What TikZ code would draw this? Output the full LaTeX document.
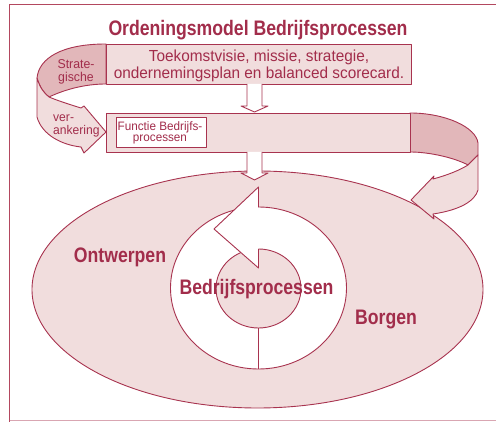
\documentclass[tikz,border=0pt]{standalone}
\usepackage{fontspec}
\setmainfont{Liberation Sans}[FakeStretch=0.84]
\newfontfamily\regfont{Liberation Sans}[FakeStretch=0.96]
\definecolor{lineRed}{HTML}{A8334F}
\definecolor{textRed}{HTML}{A22D4B}
\definecolor{lightPink}{HTML}{F1DDDD}
\definecolor{darkPink}{HTML}{E2B7BA}
\definecolor{frameRed}{HTML}{B3475F}
\definecolor{frameLight}{HTML}{D9A6B2}
\tikzset{
  outline/.style={draw=lineRed, line width=0.9pt, line join=round},
  lightface/.style={outline, fill=lightPink},
  darkface/.style={outline, fill=darkPink},
  whiteface/.style={outline, fill=white},
  bigtext/.style={text=textRed, font=\bfseries\fontsize{21}{21}\selectfont, inner sep=0pt},
  plaintext/.style={text=textRed, inner sep=0pt},
}
\begin{document}
\begin{tikzpicture}[x=1pt, y=-1pt]
\useasboundingbox (0,0) rectangle (496,422);

% page frame
\draw[frameRed, line width=1.5pt] (9.5,422) -- (9.5,4.5) -- (497,4.5);
\draw[frameLight, line width=1pt] (9.5,421) -- (497,421);

% outer field
\path[lightface] (257.5,289.5) ellipse [x radius=225.5, y radius=118.5];

% right ribbon: upper (dark) band and returning arrow
\path[darkface] (410,113) .. controls (445,113) and (476,127) .. (478,143)
  -- (478,155) -- (468,165) .. controls (455,158) and (430,152) .. (410,152) -- cycle;
\path[lightface] (478,155) -- (478,190) .. controls (475,201) and (460,210) .. (433,214)
  -- (434,219) -- (411,200) -- (434,176) -- (433,179)
  .. controls (448,175) and (460,170) .. (468,165) -- cycle;

% left ribbon: upper (dark) band and arrow into the second block
\path[darkface] (106,44) .. controls (62,44) and (39,58) .. (37,78)
  .. controls (40,88) and (44,93) .. (49,97)
  .. controls (66,89) and (86,84) .. (106,84) -- cycle;
\path[lightface] (37,78) -- (37,117) .. controls (42,135) and (62,145) .. (81,147)
  -- (84,153) -- (106,132) -- (84,106) -- (81,108)
  .. controls (68,104) and (56,100) .. (49,97)
  .. controls (44,93) and (40,88) .. (37,78) -- cycle;

% blocks
\node[lightface, minimum width=305pt, minimum height=40pt, inner sep=0pt, anchor=north west] (vision) at (106,44) {};
\node[lightface, minimum width=304pt, minimum height=39pt, inner sep=0pt, anchor=north west] (function) at (106,113) {};
\node[whiteface, line width=0.8pt, minimum width=90pt, minimum height=30pt, inner sep=0pt, anchor=north west] (fnbox) at (116,117) {};

% block arrows
\path[whiteface] (247,84) -- (247,106) -- (241,106) -- (254.5,112) -- (268,106) -- (262,106) -- (262,84);
\path[whiteface] (247,152) -- (247,173) -- (241,173) -- (254.5,180) -- (268,173) -- (262,173) -- (262,152);

% process cycle
\path[whiteface] (258.5,288) ellipse [x radius=88, y radius=81];
\path[lightface] (258.5,288.5) ellipse [x radius=42.5, y radius=39.5];
\draw[outline] (258.5,328) -- (258.5,369);
\fill[white] (258.5,187) -- (214,229) -- (258.5,268) -- cycle;
\draw[outline] (258.5,207.5) -- (258.5,187) -- (214,229) -- (258.5,268) -- (258.5,249);

% texts (multi-line nodes are placed by the baseline of their last line)
\node[bigtext, anchor=base] (title) at (258,35.5) {Ordeningsmodel Bedrijfsprocessen};
\node[plaintext, anchor=base, align=center, font=\regfont\fontsize{16}{17.3}\selectfont] (visiontext) at (259,79)
  {Toekomstvisie, missie, strategie,\\ondernemingsplan en balanced scorecard.};
\node[plaintext, anchor=base, align=center, font=\regfont\fontsize{12.8}{13.3}\selectfont] (strat) at (76,81.7)
  {Strate-\\gische};
\node[plaintext, anchor=base west, align=left, font=\regfont\fontsize{12.6}{13.3}\selectfont] (anchoring) at (53,135)
  {ver-\\ankering};
\node[plaintext, anchor=base, align=center, font=\regfont\fontsize{12.2}{11.2}\selectfont] (fntext) at (160,141.5)
  {Functie Bedrijfs-\\processen};
\node[bigtext, anchor=base] (process) at (256.5,295) {Bedrijfsprocessen};
\node[bigtext, anchor=base] (design) at (120,262.5) {Ontwerpen};
\node[bigtext, anchor=base] (assure) at (386,325) {Borgen};
\end{tikzpicture}
\end{document}
